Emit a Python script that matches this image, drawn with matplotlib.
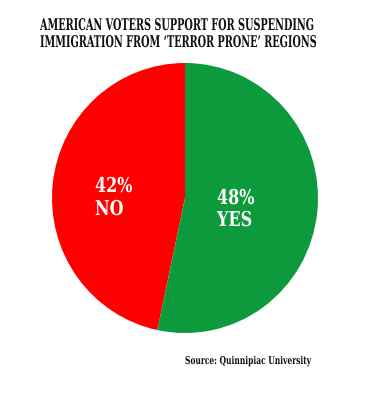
import matplotlib.pyplot as plt
from matplotlib.patheffects import AbstractPathEffect
from matplotlib.transforms import Affine2D

# Data
labels = ['NO', 'YES']
values = [42, 48]
pct_labels = ['42%', '48%']
colors = ['#ff0000', '#0c9a3c']
title_lines = ["AMERICAN VOTERS SUPPORT FOR SUSPENDING",
               "IMMIGRATION FROM \u2018TERROR PRONE\u2019 REGIONS"]
source = "Source: Quinnipiac University"

W, H = 373, 400
font = dict(family='DejaVu Serif', fontstretch='condensed', weight='bold')


# stretches glyphs vertically about the baseline, to mimic a narrow headline face
class Stretch(AbstractPathEffect):
    def __init__(self, sy):
        super().__init__()
        self.sy = sy

    def draw_path(self, renderer, gc, tpath, affine, rgbFace=None):
        renderer.draw_path(gc, tpath, Affine2D().scale(1, self.sy) + affine, rgbFace)


fig = plt.figure(figsize=(W / 100, H / 100), dpi=100)
fig.patch.set_facecolor('white')

# pie axes placed so the circle sits where it does in the picture
cx, cy, rx, ry = 185, 198, 133, 135
ax = fig.add_axes([(cx - rx) / W, (H - cy - ry) / H, 2 * rx / W, 2 * ry / H])
ax.pie(values, colors=colors, startangle=90, counterclock=True, radius=1)
ax.set_aspect('auto')
ax.set_xlim(-1, 1)
ax.set_ylim(-1, 1)

# title
for line, base in zip(title_lines, [30, 47]):
    fig.text(40 / W, 1 - base / H, line, ha='left', va='baseline', fontsize=7.75,
             color='#111111', path_effects=[Stretch(1.5)], **font)

# slice labels
label_pos = {'NO': (95, 192, 215), 'YES': (217, 204, 226)}
for lab, pct in zip(labels, pct_labels):
    x, y1, y2 = label_pos[lab]
    fig.text(x / W, 1 - y1 / H, pct, ha='left', va='baseline', fontsize=12.8,
             color='white', path_effects=[Stretch(1.15)], **font)
    fig.text(x / W, 1 - y2 / H, lab, ha='left', va='baseline', fontsize=12.8,
             color='white', path_effects=[Stretch(1.15)], **font)

fig.text(185 / W, 1 - 364 / H, source, ha='left', va='baseline', fontsize=6.0,
         color='#111111', path_effects=[Stretch(1.3)], **font)

fig.savefig('out.png', dpi=100, facecolor='white')
